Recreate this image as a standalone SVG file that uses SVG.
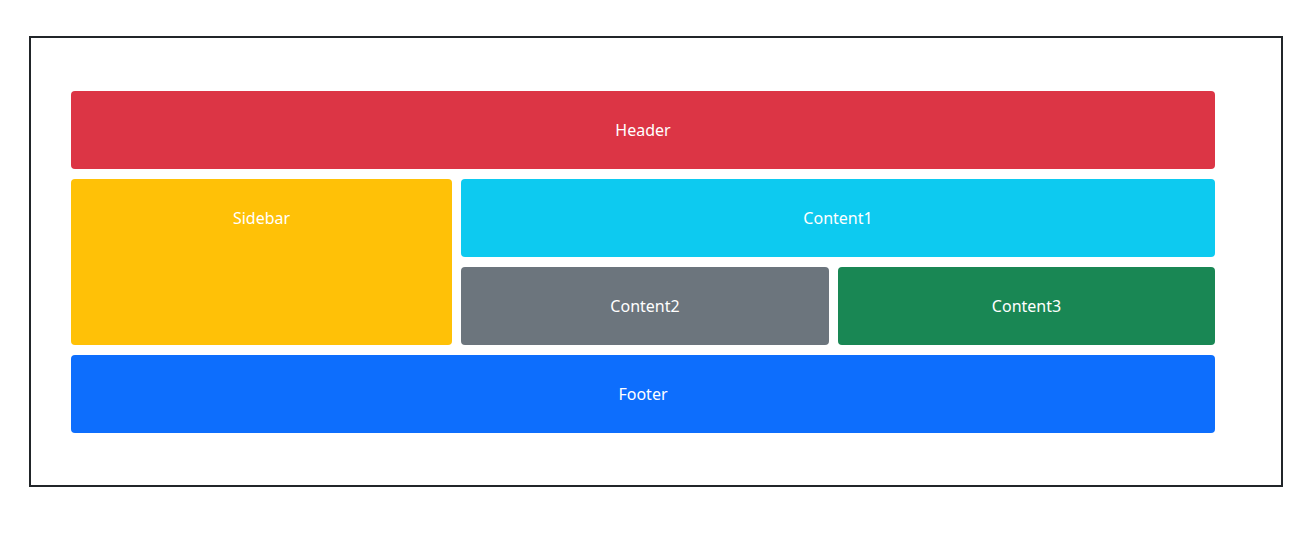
<svg xmlns="http://www.w3.org/2000/svg" width="1309" height="535" viewBox="0 0 1309 535">
<style>
.box{stroke:none}
.lbl{font-family:"Noto Sans","Open Sans",sans-serif;font-size:16px;fill:#ffffff;text-anchor:middle;dominant-baseline:central}
</style>
<rect x="0" y="0" width="1309" height="535" fill="#ffffff"/>
<rect id="frame" x="30" y="37" width="1252" height="449" fill="#ffffff" stroke="#212529" stroke-width="2"/>
<g id="connectors"></g>
<g id="header"><rect class="box" x="71" y="91" width="1144" height="78" rx="4" fill="#dc3545"/><text class="lbl" x="643" y="130">Header</text></g>
<g id="sidebar"><rect class="box" x="71" y="179" width="381" height="166" rx="4" fill="#ffc107"/><text class="lbl" x="261.5" y="218">Sidebar</text></g>
<g id="content1"><rect class="box" x="461" y="179" width="754" height="78" rx="4" fill="#0dcaf0"/><text class="lbl" x="838" y="218">Content1</text></g>
<g id="content2"><rect class="box" x="461" y="267" width="368" height="78" rx="4" fill="#6c757d"/><text class="lbl" x="645" y="306">Content2</text></g>
<g id="content3"><rect class="box" x="838" y="267" width="377" height="78" rx="4" fill="#198754"/><text class="lbl" x="1026.5" y="306">Content3</text></g>
<g id="footer"><rect class="box" x="71" y="355" width="1144" height="78" rx="4" fill="#0d6efd"/><text class="lbl" x="643" y="394">Footer</text></g>
</svg>
